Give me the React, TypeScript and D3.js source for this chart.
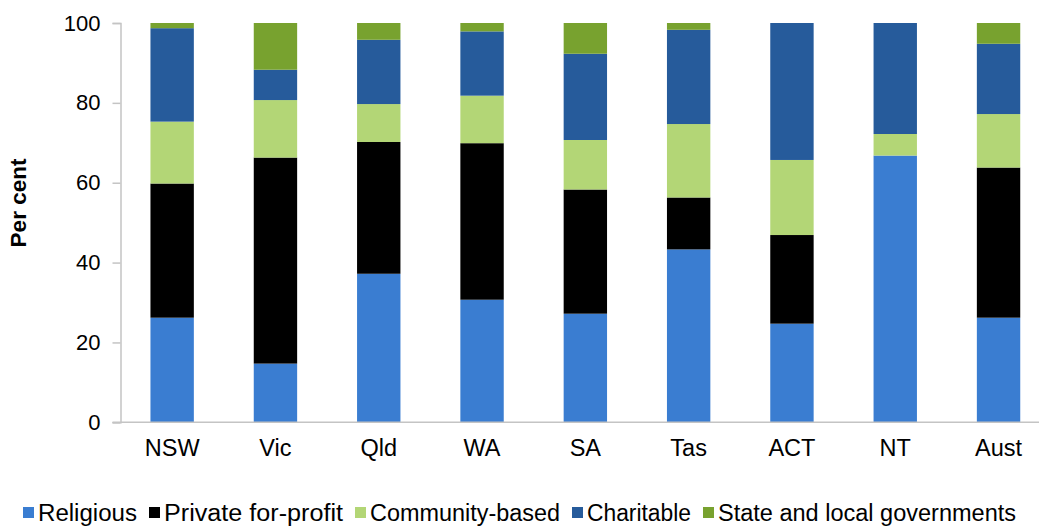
import { useEffect, useRef } from 'react';
import * as d3 from 'd3';

const WIDTH = 1039;
const HEIGHT = 527;
const MARGIN = { top: 23, right: 0, bottom: 105, left: 120.5 };

const states = ['NSW', 'Vic', 'Qld', 'WA', 'SA', 'Tas', 'ACT', 'NT', 'Aust'];
const seriesNames = [
  'Religious',
  'Private for-profit',
  'Community-based',
  'Charitable',
  'State and local governments',
];
const colors = ['#3a7dd1', '#000000', '#b3d676', '#265b9b', '#78a22f'];

// per cent of places by provider type
const religious = [26.2, 14.7, 37.2, 30.7, 27.2, 43.3, 24.7, 66.8, 26.2];
const privateForProfit = [33.6, 51.6, 33.0, 39.2, 31.1, 13.0, 22.2, 0, 37.6];
const communityBased = [15.5, 14.4, 9.5, 11.9, 12.4, 18.4, 18.8, 5.4, 13.4];
const charitable = [23.4, 7.6, 16.1, 16.1, 21.6, 23.6, 34.3, 27.8, 17.6];
const government = [1.3, 11.7, 4.2, 2.1, 7.7, 1.7, 0, 0, 5.2];

const yTicks = [0, 20, 40, 60, 80, 100];

export default function App() {
  const axesRef = useRef<SVGGElement>(null);
  const boundsWidth = 103.3 * 9;
  const boundsHeight = 422.3 - MARGIN.top;

  const rows = states.map((s, i) => ({
    state: s,
    'Religious': religious[i],
    'Private for-profit': privateForProfit[i],
    'Community-based': communityBased[i],
    'Charitable': charitable[i],
    'State and local governments': government[i],
  }));

  const stacked = d3.stack<any>().keys(seriesNames)(rows);

  const xScale = d3
    .scaleBand()
    .domain(states)
    .range([0, boundsWidth])
    .paddingInner(0.58)
    .paddingOuter(0.29);

  const yScale = d3.scaleLinear().domain([0, 100]).range([boundsHeight, 0]);

  useEffect(() => {
    const g = d3.select(axesRef.current);
    g.selectAll('*').remove();

    const yAxis = g
      .append('g')
      .call(d3.axisLeft(yScale).tickValues(yTicks).tickSize(8).tickPadding(12));
    yAxis.select('.domain').attr('stroke', '#c4c4c4').attr('stroke-width', 1.5);
    yAxis.selectAll('.tick line').attr('stroke', '#c4c4c4').attr('stroke-width', 1.5);
    yAxis
      .selectAll('.tick text')
      .attr('fill', '#000')
      .style('font-family', 'Arial, "Liberation Sans", sans-serif')
      .style('font-size', '22px');

    // x baseline
    g.append('line')
      .attr('x1', -8)
      .attr('x2', WIDTH)
      .attr('y1', yScale(0))
      .attr('y2', yScale(0))
      .attr('stroke', '#c4c4c4')
      .attr('stroke-width', 1.5);

    const xAxis = g
      .append('g')
      .attr('transform', `translate(0,${boundsHeight})`)
      .call(d3.axisBottom(xScale).tickSize(0).tickPadding(17));
    xAxis.select('.domain').remove();
    xAxis
      .selectAll('.tick text')
      .attr('fill', '#000')
      .style('font-family', 'Arial, "Liberation Sans", sans-serif')
      .style('font-size', '23.5px');
  }, []);

  // legend layout
  const legendFont = 'Arial, "Liberation Sans", sans-serif';
  const textWidths = [99, 179, 190, 104, 298];
  const sq = 11;
  const gapSqText = 4;
  const gapItem = 12;
  const total =
    textWidths.reduce((a, b) => a + b, 0) +
    seriesNames.length * (sq + gapSqText) +
    (seriesNames.length - 1) * gapItem;
  let lx = (WIDTH - total) / 2;
  const legendItems = seriesNames.map((name, i) => {
    const item = { name, x: lx, color: colors[i], w: textWidths[i] };
    lx += sq + gapSqText + textWidths[i] + gapItem;
    return item;
  });

  return (
    <svg
      width={WIDTH}
      height={HEIGHT}
      style={{ position: 'absolute', left: 0, top: 0, background: '#fff' }}
    >
      <g transform={`translate(${MARGIN.left},${MARGIN.top})`}>
        {stacked.map((layer, li) => (
          <g key={layer.key} fill={colors[li]}>
            {layer.map((d, i) =>
              d[1] - d[0] > 0 ? (
                <rect
                  key={i}
                  x={xScale(states[i])}
                  width={xScale.bandwidth()}
                  y={yScale(d[1])}
                  height={yScale(d[0]) - yScale(d[1])}
                />
              ) : null
            )}
          </g>
        ))}
      </g>
      <g ref={axesRef} transform={`translate(${MARGIN.left},${MARGIN.top})`} />
      <text
        transform={`translate(26,203) rotate(-90)`}
        textAnchor="middle"
        fontFamily={legendFont}
        fontWeight="bold"
        fontSize={22.5}
        fill="#000"
      >
        Per cent
      </text>
      <g>
        {legendItems.map((it) => (
          <g key={it.name} transform={`translate(${it.x},0)`}>
            <rect x={0} y={507} width={sq} height={sq} fill={it.color} />
            <text
              x={sq + gapSqText}
              y={520.5}
              fontFamily={legendFont}
              fontSize={23}
              textLength={it.w}
              lengthAdjust="spacingAndGlyphs"
              fill="#000"
            >
              {it.name}
            </text>
          </g>
        ))}
      </g>
    </svg>
  );
}
